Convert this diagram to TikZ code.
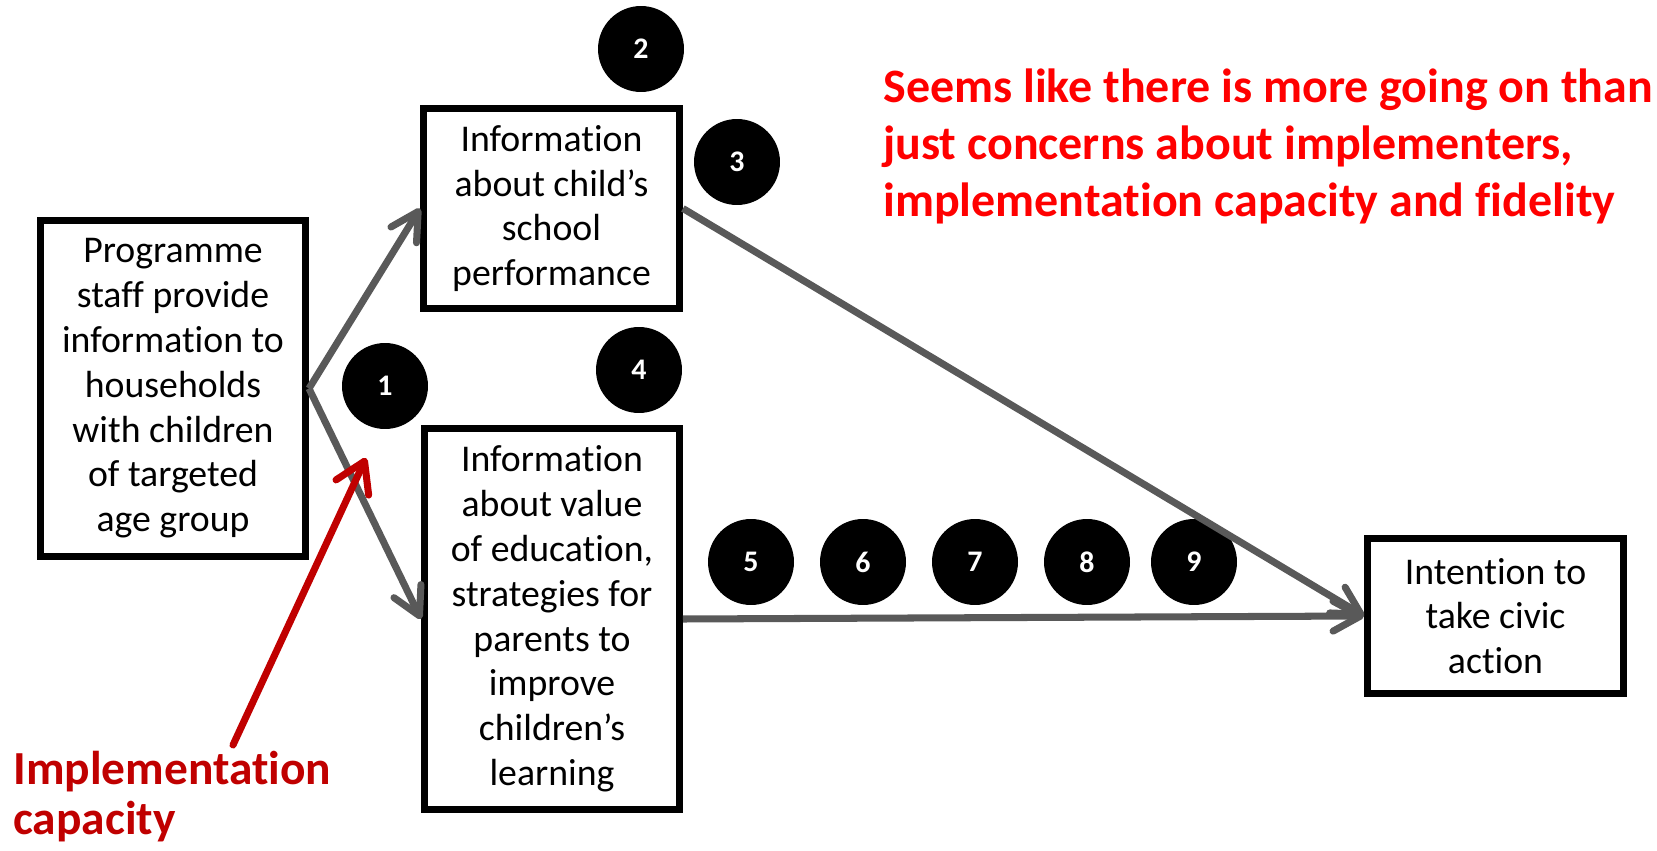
\documentclass[tikz,border=0pt]{standalone}
\usepackage{fontspec}
\setmainfont{Carlito}[Ligatures=NoCommon]
\usetikzlibrary{arrows.meta}
\definecolor{arrowgray}{HTML}{595959}
\definecolor{darkred}{HTML}{C00000}
\tikzset{
  box/.style={draw=black, line width=4pt, fill=white, align=center, inner sep=0pt,
    font=\fontsize{21.5}{25.5}\selectfont},
  num/.style={circle, fill=black, minimum size=1.72cm, inner sep=0pt, text=white,
    font=\fontsize{17}{17}\selectfont\bfseries},
  link/.style={draw=arrowgray, line width=4pt, -{Straight Barb[length=0.55cm,width=0.6cm,round]}},
  redlink/.style={draw=darkred, line width=4pt, line cap=round,
    -{Straight Barb[length=0.58cm,width=0.72cm,round]}},
}
\begin{document}
\begin{tikzpicture}[x=0.02cm, y=-0.02cm]
    \useasboundingbox (0,0) rectangle (1657,851);
    % boxes of the chain
    \node[box, minimum width=5.3cm, minimum height=6.72cm] (staff) at (173,388.5)
        {Programme\\staff provide\\information to\\households\\with children\\of targeted\\age group};
    \node[box, minimum width=5.12cm, minimum height=4cm] (perf) at (551.5,208.5)
        {Information\\about child’s\\school\\performance};
    \node[box, minimum width=5.1cm, minimum height=7.62cm] (value) at (552,619)
        {Information\\about value\\of education,\\strategies for\\parents to\\improve\\children’s\\learning};
    \node[box, minimum width=5.12cm, minimum height=3.1cm] (action) at (1495.5,616)
        {Intention to\\take civic\\action};
    % numbered assumptions
    \node[num] (n1) at (385,386) {1};
    \node[num] (n2) at (641,49) {2};
    \node[num] (n3) at (737,162) {3};
    \node[num] (n4) at (639,370) {4};
    \foreach \i/\x in {5/751,6/863,7/975,8/1087,9/1194}
        \node[num] (n\i) at (\x,562) {\i};
    % remarks in red
    \node[anchor=base west, inner sep=0pt, align=left, text=red,
        font=\fontsize{27.3}{32.7}\selectfont\bfseries] (remark) at (883,217)
        {Seems like there is more going on than\\just concerns about implementers,\\implementation capacity and fidelity};
    \node[anchor=base west, inner sep=0pt, align=left, text=darkred,
        font=\fontsize{27}{28}\selectfont\bfseries] (capacity) at (13,834)
        {Implementation\\capacity};
    % links
    \draw[link] (staff.east) -- (perf.west);
    \draw[link] (staff.east) -- (value.west);
    \draw[link] (perf.east) -- (action.west);
    \draw[link] (value.east) -- (action.west);
    \coordinate (capfoot) at (233,745);
    \coordinate (captip) at (366,458);
    \draw[redlink] (capfoot) -- (captip);
\end{tikzpicture}
\end{document}
